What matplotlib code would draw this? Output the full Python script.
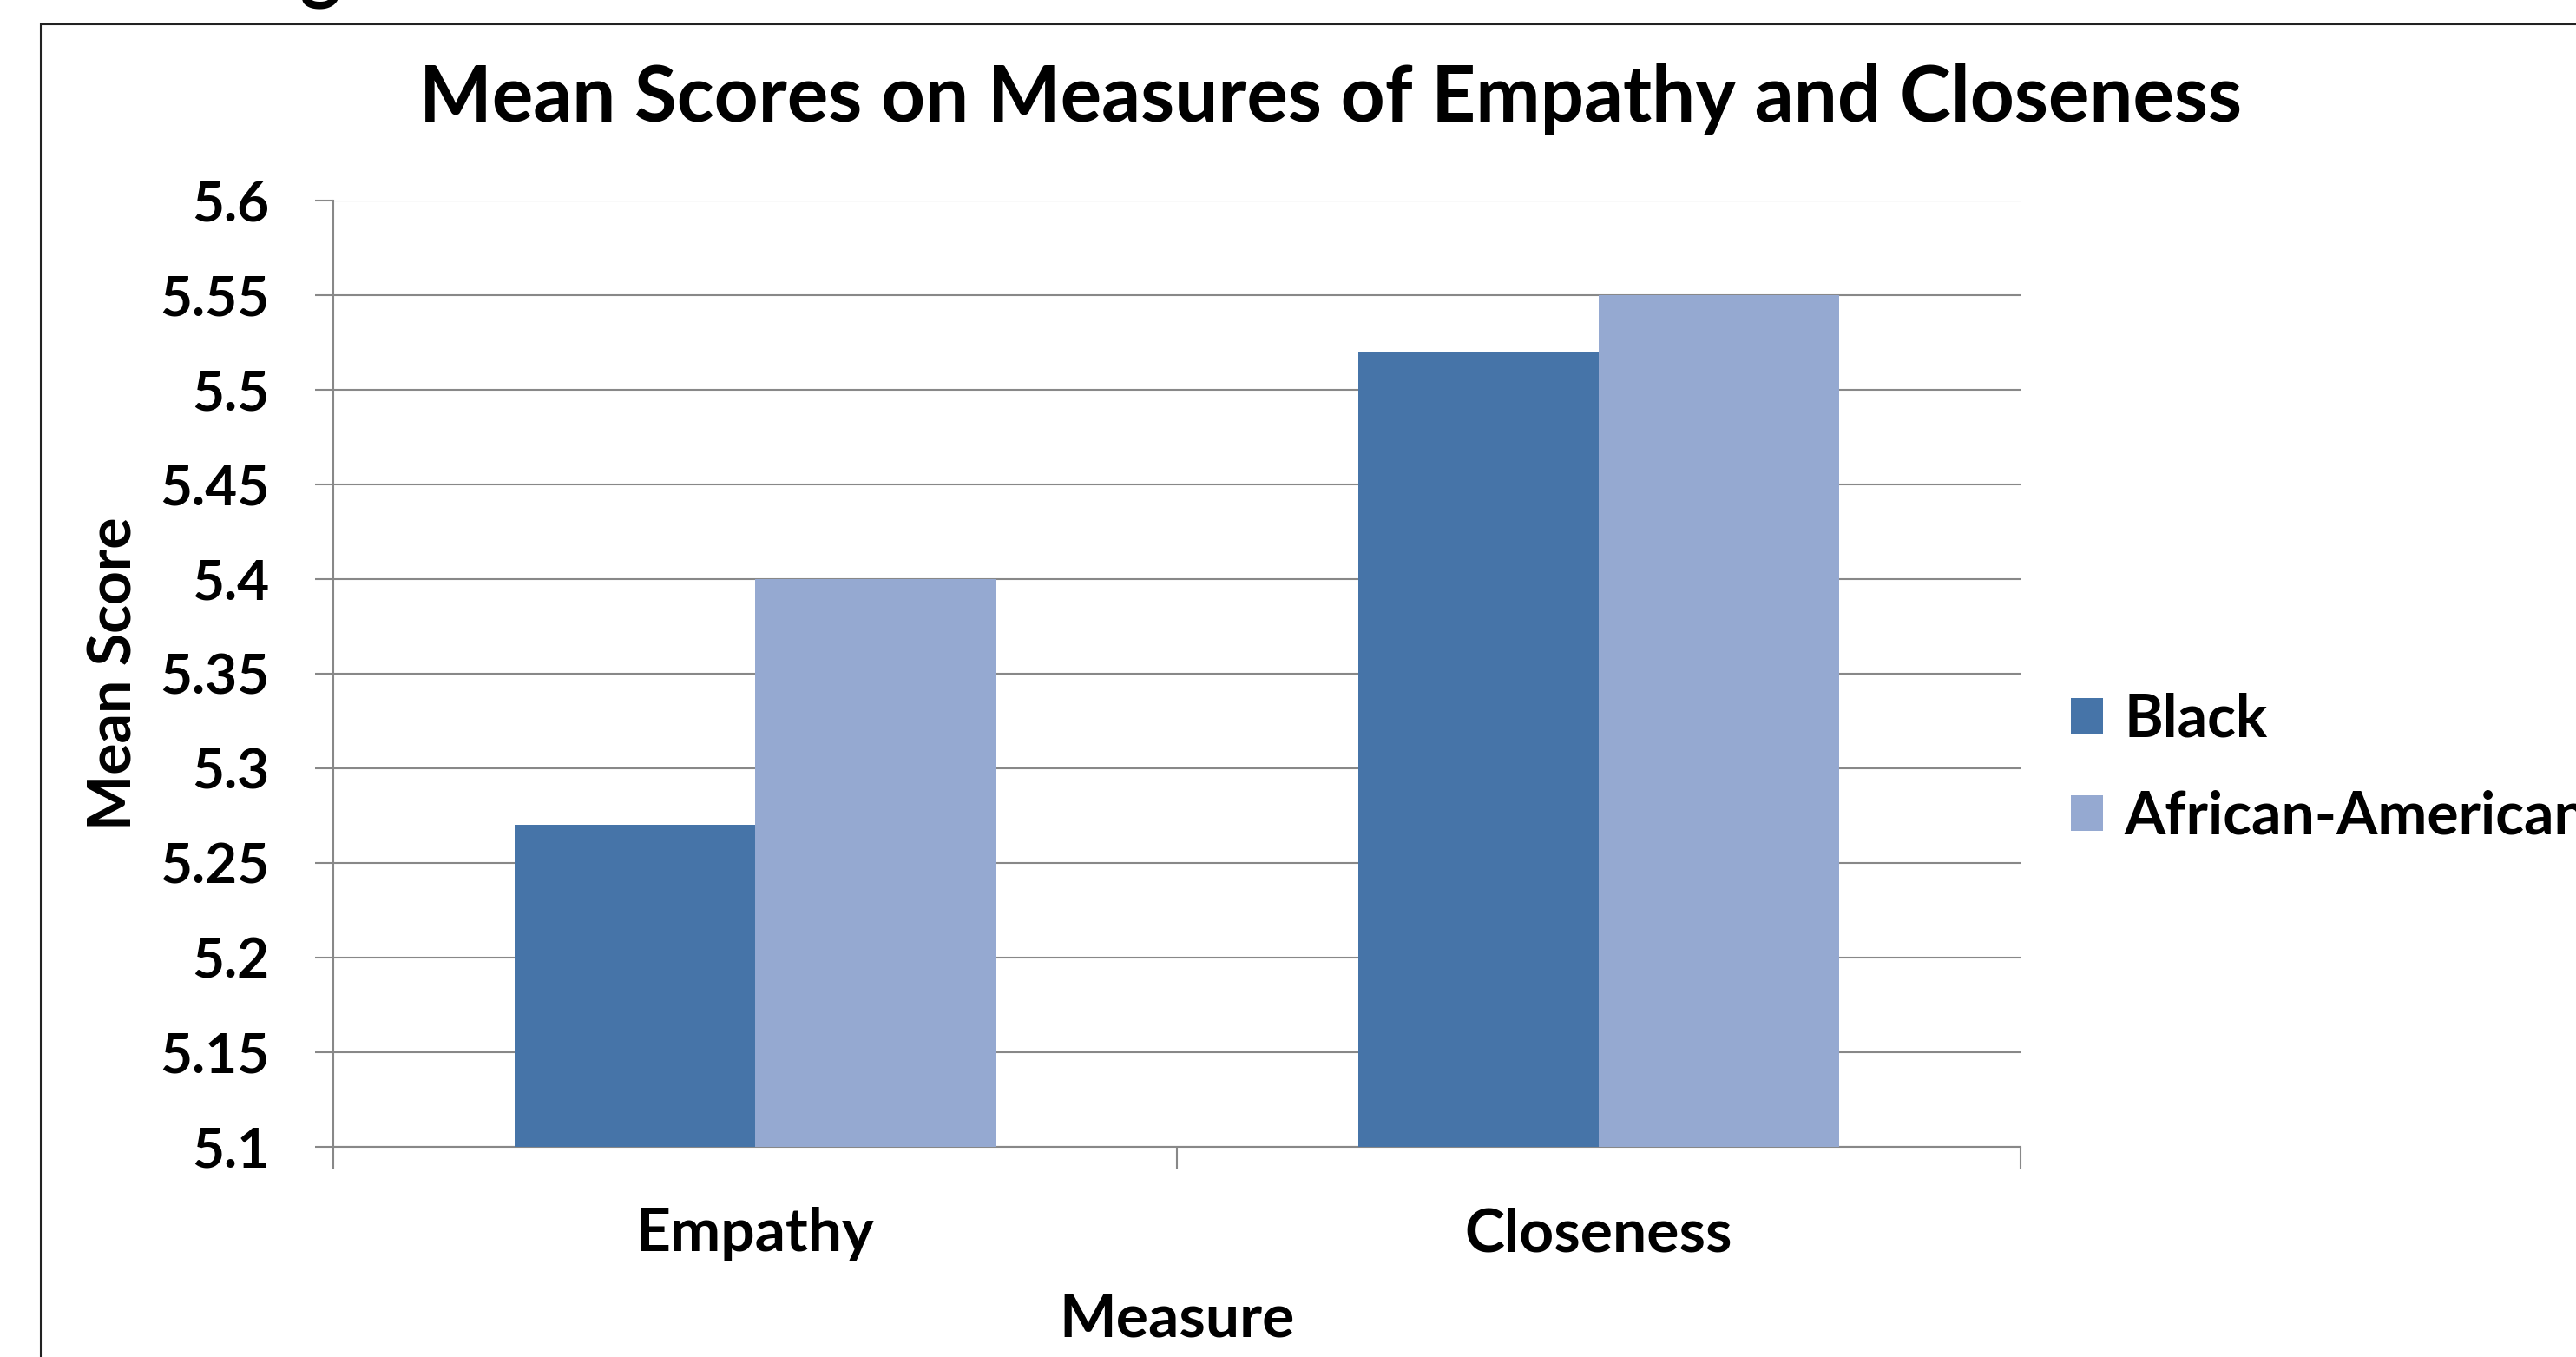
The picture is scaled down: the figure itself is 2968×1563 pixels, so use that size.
import matplotlib
matplotlib.use("Agg")
import matplotlib.pyplot as plt
from matplotlib.patches import Rectangle, Patch
import numpy as np

# ---- data ----
categories = ["Empathy", "Closeness"]
series_names = ["Black", "African-American"]
black_vals = [5.27, 5.52]
aa_vals = [5.40, 5.55]
yticks = [5.1, 5.15, 5.2, 5.25, 5.3, 5.35, 5.4, 5.45, 5.5, 5.55, 5.6]
ytick_labels = ["5.1", "5.15", "5.2", "5.25", "5.3", "5.35", "5.4", "5.45", "5.5", "5.55", "5.6"]

title = "Mean Scores on Measures of Empathy and Closeness"
xlabel = "Measure"
ylabel = "Mean Score"

c_dark = "#4674A8"
c_light = "#95A9D1"
grid_c = "#888888"

plt.rcParams['font.family'] = ['Lato', 'DejaVu Sans']
plt.rcParams['font.weight'] = 'bold'

W, H = 2968, 1563
fig = plt.figure(figsize=(W / 100, H / 100), dpi=100)
fs_y = 46
fs_x = 50
fs_leg = 49

def fx(px):
    return px / W

def fy(py):
    return 1 - py / H

ax = fig.add_axes([fx(384), fy(1321), fx(2328) - fx(384), fy(231) - fy(1321)])

x = np.arange(len(categories))
bw = 0.2853
ax.bar(x - bw / 2, black_vals, width=bw, color=c_dark, zorder=3, label=series_names[0])
ax.bar(x + bw / 2, aa_vals, width=bw, color=c_light, zorder=3, label=series_names[1])

ax.set_ylim(5.1, 5.6)
ax.set_xlim(-0.5, len(categories) - 0.5)
ax.set_yticks(yticks)
ax.set_yticklabels(ytick_labels)
ax.yaxis.grid(True, color=grid_c, linewidth=1.5, zorder=0)
ax.set_axisbelow(True)

ax.set_xticks(x)
ax.set_xticklabels(categories)
ax.set_xticks([-0.5, 0.5, 1.5], minor=True)
ax.tick_params(axis='x', which='major', length=0, pad=50, labelsize=fs_x)
ax.tick_params(axis='x', which='minor', length=19, width=1.5, color=grid_c)
ax.tick_params(axis='y', length=15, width=1.5, color=grid_c, pad=38, labelsize=fs_y)

for s in ['top', 'right']:
    ax.spines[s].set_visible(False)
for s in ['left', 'bottom']:
    ax.spines[s].set_color(grid_c)
    ax.spines[s].set_linewidth(1.5)

ax.set_ylabel(ylabel, fontsize=49, fontweight='bold')
ax.yaxis.set_label_coords(-0.1296, 0.5)
ax.yaxis.label.set_va('center')
ax.set_xlabel(xlabel, fontsize=fs_x, fontweight='bold')
ax.xaxis.set_label_coords(0.5, -0.183)
ax.xaxis.label.set_va('center')

fig.text(fx(1533), fy(114), title, ha='center', va='center', fontsize=64, fontweight='bold')

# partial heading letter cut at the top
fig.text(fx(369), 1.004, "g", ha='center', va='baseline', fontsize=64, fontweight='bold')

# outer border
fig.patches.append(Rectangle((fx(47), -0.2), 1.5, fy(28) + 0.2, transform=fig.transFigure,
                             fill=False, edgecolor='#222222', linewidth=1.5))

handles = [Patch(facecolor=c_dark), Patch(facecolor=c_light)]
fig.legend(handles, series_names, loc='center left', bbox_to_anchor=(fx(2386), fy(885)),
           frameon=False, prop={'weight': 'bold', 'size': fs_leg},
           handlelength=0.55, handleheight=0.55, handletextpad=0.35,
           labelspacing=0.72, borderpad=0, borderaxespad=0)

fig.savefig("out.png", dpi=100)
